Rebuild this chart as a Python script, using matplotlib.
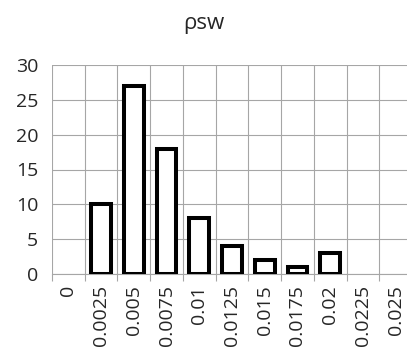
import matplotlib
matplotlib.use('Agg')
import matplotlib.pyplot as plt
from matplotlib import rcParams

rcParams['font.family'] = ['Open Sans', 'DejaVu Sans']

bins   = ['0', '0.0025', '0.005', '0.0075', '0.01', '0.0125',
          '0.015', '0.0175', '0.02', '0.0225', '0.025']
counts = [0, 10, 27, 18, 8, 4, 2, 1, 3, 0, 0]
yticks = [0, 5, 10, 15, 20, 25, 30]

GRID = '#a6a6a6'
TEXT = '#262626'

fig = plt.figure(figsize=(4.07, 3.48), dpi=100)
ax = fig.add_axes([52/407, 1 - 274/348, 360/407, (274 - 65)/348])

x = list(range(len(bins)))
edges = ['black' if c > 0 else 'none' for c in counts]
ax.bar(x, counts, 0.6, color='white', edgecolor=edges,
       linewidth=2.9, zorder=3)

ax.set_xlim(-0.5, len(bins) - 0.5)
ax.set_ylim(0, 30)
ax.set_yticks(yticks)
ax.set_xticks(x)
ax.set_xticklabels(bins, rotation=90, fontsize=14, color=TEXT)
ax.tick_params(axis='x', length=0, pad=8)
ax.tick_params(axis='y', length=0, labelsize=14, labelcolor=TEXT, pad=10)

# category boundaries as vertical grid
ax.set_xticks([i - 0.5 for i in range(len(bins) + 1)], minor=True)
ax.tick_params(axis='x', which='minor', length=5, color=GRID, width=0.8)
ax.xaxis.grid(True, which='minor', color=GRID, linewidth=0.8, zorder=0)
ax.yaxis.grid(True, color=GRID, linewidth=0.8, zorder=0)
ax.set_axisbelow(True)

for s in ['top', 'right', 'left']:
    ax.spines[s].set_visible(False)
ax.spines['bottom'].set_color(GRID)
ax.spines['bottom'].set_linewidth(0.8)

fig.text(0.5, 1 - 24/348, 'ρsw', ha='center', va='center', fontsize=16,
         color=TEXT)

fig.savefig('out.png', dpi=100)
